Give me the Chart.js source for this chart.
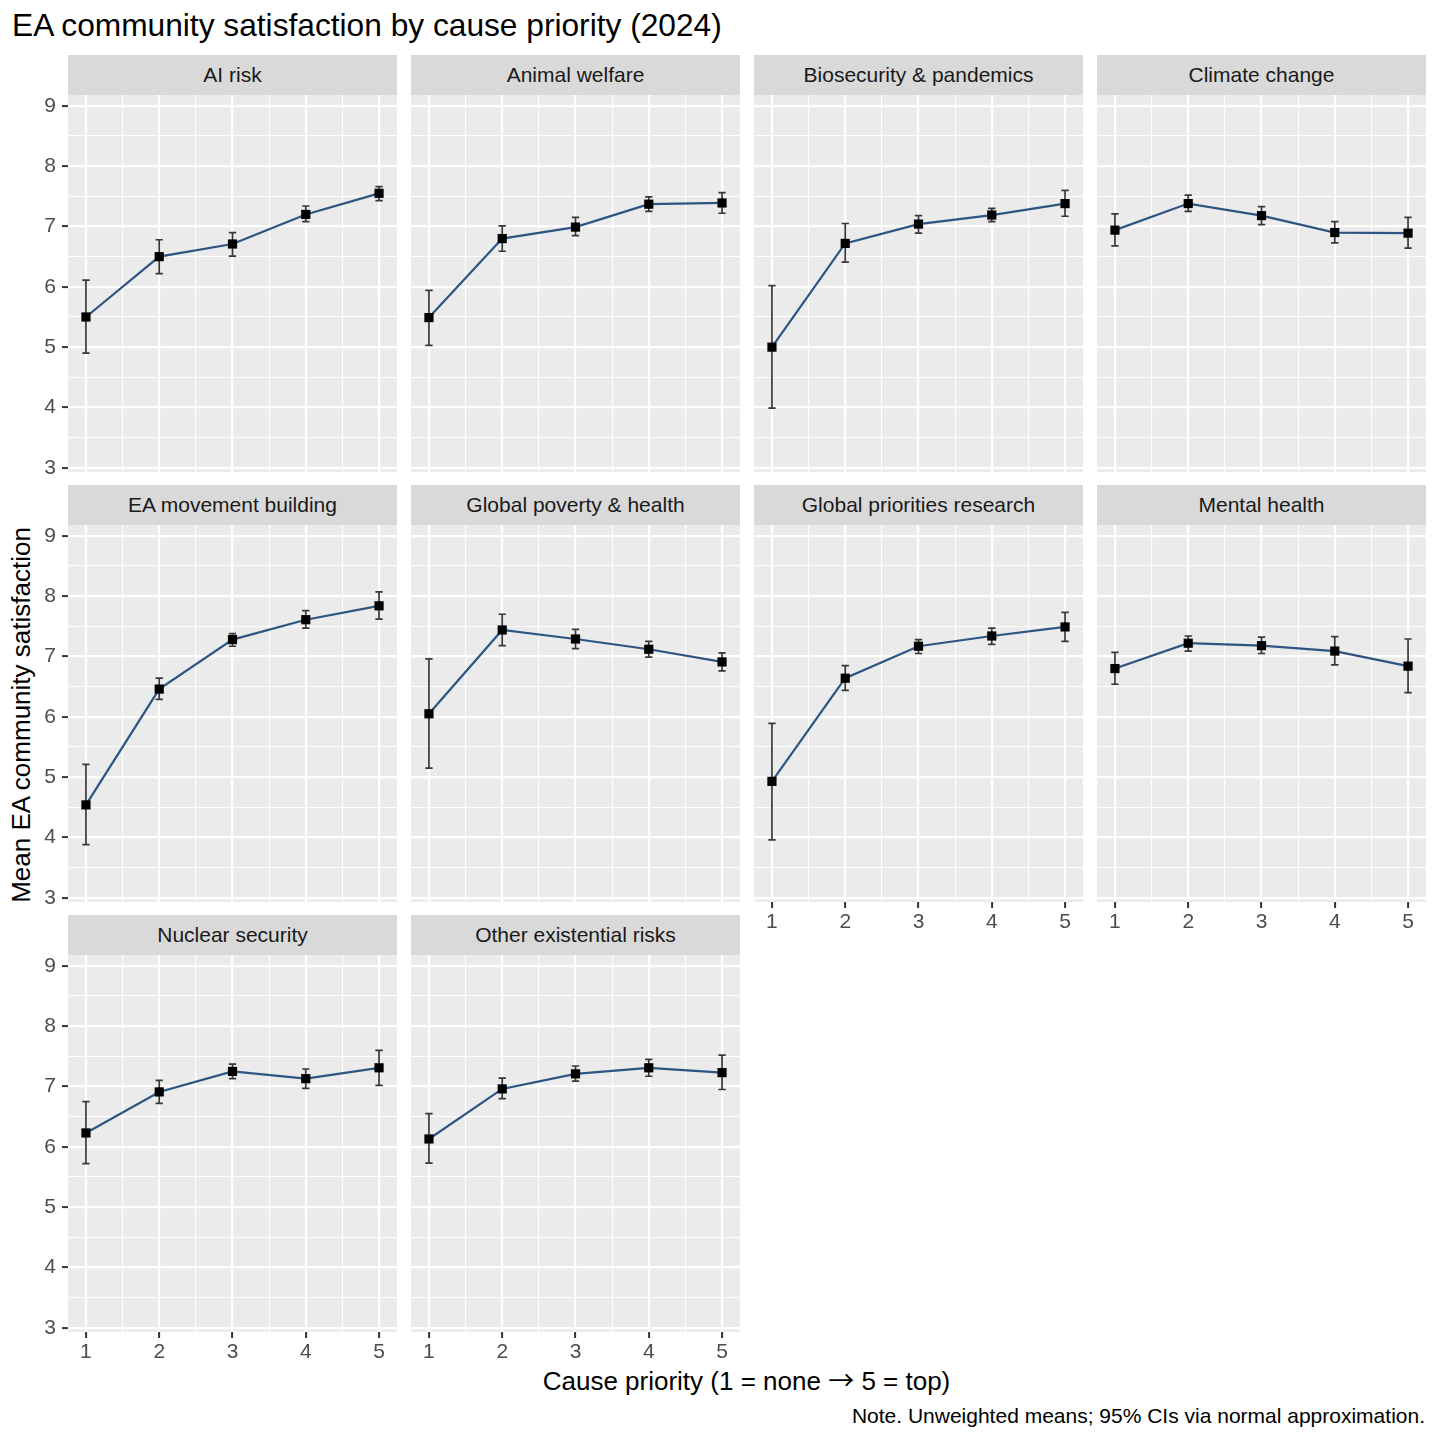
<!DOCTYPE html>
<html>
<head>
<meta charset="utf-8">
<script src="https://cdn.jsdelivr.net/npm/chart.js@4.4.1/dist/chart.umd.min.js"></script>
<style>
  html, body { margin: 0; padding: 0; background: #fff; }
  body { width: 1439px; height: 1439px; position: relative; overflow: hidden;
         font-family: "Liberation Sans", Arial, sans-serif; }
  .txt { position: absolute; white-space: nowrap; }
  .strip { position: absolute; height: 40px; line-height: 40px; background: #D9D9D9;
           color: #1A1A1A; font-size: 21px; text-align: center; }
  .arrow { font-family: "Noto Sans CJK JP", "DejaVu Sans", sans-serif; }
  canvas { position: absolute; }
</style>
</head>
<body>
<div class="txt" style="left:12px;top:9px;font-size:31.7px;line-height:32px;color:#000;">EA community satisfaction by cause priority (2024)</div>
<div class="txt" style="left:-279px;top:702px;width:600px;text-align:center;font-size:26px;line-height:26px;color:#000;transform:rotate(-90deg);">Mean EA community satisfaction</div>
<div class="txt" style="left:68px;top:1366px;width:1357px;text-align:center;font-size:26px;line-height:26px;color:#000;">Cause priority (1 = none <span class="arrow">→</span> 5 = top)</div>
<div class="txt" style="right:14px;top:1405px;font-size:21px;line-height:21px;color:#000;">Note. Unweighted means; 95% CIs via normal approximation.</div>

<script>
// =====================
// Data
// =====================
const causes = [
  "AI risk", "Animal welfare", "Biosecurity & pandemics", "Climate change",
  "EA movement building", "Global poverty & health", "Global priorities research", "Mental health",
  "Nuclear security", "Other existential risks"
];
const priorities = [1, 2, 3, 4, 5];

// mean satisfaction per cause, priority 1..5
const means = [
  [5.50, 6.50, 6.71, 7.20, 7.55],
  [5.49, 6.80, 6.99, 7.37, 7.39],
  [5.00, 6.72, 7.04, 7.19, 7.38],
  [6.94, 7.38, 7.18, 6.90, 6.89],
  [4.54, 6.46, 7.28, 7.61, 7.84],
  [6.05, 7.44, 7.29, 7.12, 6.91],
  [4.93, 6.64, 7.17, 7.34, 7.49],
  [6.80, 7.22, 7.18, 7.09, 6.84],
  [6.23, 6.91, 7.25, 7.13, 7.31],
  [6.13, 6.96, 7.21, 7.31, 7.23]
];
// 95% CI bounds
const lower = [
  [4.90, 6.22, 6.51, 7.08, 7.43],
  [5.03, 6.59, 6.85, 7.25, 7.22],
  [3.99, 6.41, 6.89, 7.08, 7.17],
  [6.68, 7.25, 7.03, 6.73, 6.64],
  [3.88, 6.29, 7.17, 7.47, 7.62],
  [5.15, 7.18, 7.13, 6.99, 6.76],
  [3.96, 6.44, 7.05, 7.20, 7.25],
  [6.54, 7.09, 7.05, 6.86, 6.40],
  [5.72, 6.72, 7.13, 6.97, 7.02],
  [5.73, 6.80, 7.09, 7.17, 6.95]
];
const upper = [
  [6.11, 6.78, 6.90, 7.34, 7.66],
  [5.94, 7.01, 7.15, 7.49, 7.56],
  [6.02, 7.05, 7.18, 7.30, 7.60],
  [7.21, 7.52, 7.33, 7.08, 7.15],
  [5.21, 6.64, 7.38, 7.76, 8.07],
  [6.96, 7.70, 7.45, 7.25, 7.06],
  [5.89, 6.85, 7.28, 7.47, 7.73],
  [7.07, 7.34, 7.32, 7.33, 7.29],
  [6.75, 7.10, 7.37, 7.29, 7.60],
  [6.55, 7.14, 7.34, 7.45, 7.52]
];
const xTicks = [1, 2, 3, 4, 5];
const yTicks = [3, 4, 5, 6, 7, 8, 9];

// =====================
// Layout (facet grid, 4 columns)
// =====================
const COL_X = [68, 411, 754, 1097], PANEL_W = 329;
const ROW_Y = [55, 485, 915], STRIP_H = 40, PANEL_H = 377;
const X_MIN = 0.755, X_MAX = 5.245, Y_MIN = 2.93, Y_MAX = 9.18;
const PAD_TOP = 24;
const FONT = '"Liberation Sans", Arial, sans-serif';
const LINE_COL = '#2D5582';

Chart.defaults.font.family = FONT;

// major ticks plus a minor line halfway between each pair
function withMinor(ticks) {
  const out = [];
  ticks.forEach((t, k) => {
    out.push(t);
    if (k < ticks.length - 1) out.push((t + ticks[k + 1]) / 2);
  });
  return out;
}
const isMajor = v => Number.isInteger(v);

const panelBg = {
  id: 'panelBg',
  beforeDraw(chart) {
    const { ctx, chartArea: a } = chart;
    ctx.save();
    ctx.fillStyle = '#EBEBEB';
    ctx.fillRect(a.left, a.top, a.right - a.left, a.bottom - a.top);
    ctx.restore();
  }
};

function errorBars(i) {
  return {
    id: 'errorBars',
    beforeDatasetsDraw(chart) {
      const { ctx, scales: { x, y } } = chart;
      ctx.save();
      ctx.strokeStyle = '#383838';
      ctx.lineWidth = 1.7;
      priorities.forEach((p, j) => {
        const px = x.getPixelForValue(p);
        const x0 = x.getPixelForValue(p - 0.05), x1 = x.getPixelForValue(p + 0.05);
        const yl = y.getPixelForValue(lower[i][j]), yh = y.getPixelForValue(upper[i][j]);
        ctx.beginPath();
        ctx.moveTo(px, yl); ctx.lineTo(px, yh);
        ctx.moveTo(x0, yl); ctx.lineTo(x1, yl);
        ctx.moveTo(x0, yh); ctx.lineTo(x1, yh);
        ctx.stroke();
      });
      ctx.restore();
    }
  };
}

function axisGrid(show) {
  return {
    color: '#FFFFFF',
    lineWidth: c => isMajor(c.tick.value) ? 2.2 : 1.1,
    drawTicks: show,
    tickLength: 6,
    tickColor: c => isMajor(c.tick.value) ? '#333333' : 'rgba(0,0,0,0)',
    tickWidth: 2
  };
}

function tickOpts(show, pad) {
  return {
    display: show,
    autoSkip: false,
    maxRotation: 0,
    padding: pad,
    color: '#4D4D4D',
    font: { family: FONT, size: 21 },
    callback: v => isMajor(v) ? String(v) : ''
  };
}

function makePanel(i) {
  const col = i % 4, row = Math.floor(i / 4);
  const showY = col === 0;
  const showX = row === 2 || (row === 1 && col >= 2);
  const axW = showY ? COL_X[0] : 0;
  const axH = showX ? 48 : 20;
  const panelTop = ROW_Y[row] + STRIP_H;

  const strip = document.createElement('div');
  strip.className = 'strip';
  strip.style.left = COL_X[col] + 'px';
  strip.style.top = ROW_Y[row] + 'px';
  strip.style.width = PANEL_W + 'px';
  strip.textContent = causes[i];

  const canvas = document.createElement('canvas');
  canvas.width = PANEL_W + axW;
  canvas.height = PAD_TOP + PANEL_H + axH;
  canvas.style.left = (COL_X[col] - axW) + 'px';
  canvas.style.top = (panelTop - PAD_TOP) + 'px';
  canvas.style.width = canvas.width + 'px';
  canvas.style.height = canvas.height + 'px';
  document.body.appendChild(canvas);
  document.body.appendChild(strip);

  new Chart(canvas.getContext('2d'), {
    type: 'line',
    data: {
      datasets: [{
        data: priorities.map((p, j) => ({ x: p, y: means[i][j] })),
        borderColor: LINE_COL,
        borderWidth: 2.2,
        pointStyle: 'rect',
        pointRadius: 6.5,
        pointBackgroundColor: '#000000',
        pointBorderColor: '#000000',
        pointBorderWidth: 0,
        tension: 0,
        fill: false
      }]
    },
    options: {
      responsive: false,
      animation: false,
      events: [],
      layout: { autoPadding: false, padding: { top: PAD_TOP, left: 0, right: 0, bottom: 0 } },
      plugins: { legend: { display: false }, tooltip: { enabled: false }, title: { display: false } },
      scales: {
        x: {
          type: 'linear', position: 'bottom', min: X_MIN, max: X_MAX,
          afterBuildTicks: s => { s.ticks = withMinor(xTicks).map(v => ({ value: v })); },
          afterFit: s => { s.height = axH; },
          border: { display: false },
          grid: axisGrid(showX),
          ticks: tickOpts(showX, 2)
        },
        y: {
          type: 'linear', position: 'left', min: Y_MIN, max: Y_MAX,
          afterBuildTicks: s => { s.ticks = withMinor(yTicks).map(v => ({ value: v })); },
          afterFit: s => { s.width = axW; },
          border: { display: false },
          grid: axisGrid(showY),
          ticks: tickOpts(showY, 6)
        }
      }
    },
    plugins: [panelBg, errorBars(i)]
  });
}

causes.forEach((c, i) => makePanel(i));
</script>
</body>
</html>
